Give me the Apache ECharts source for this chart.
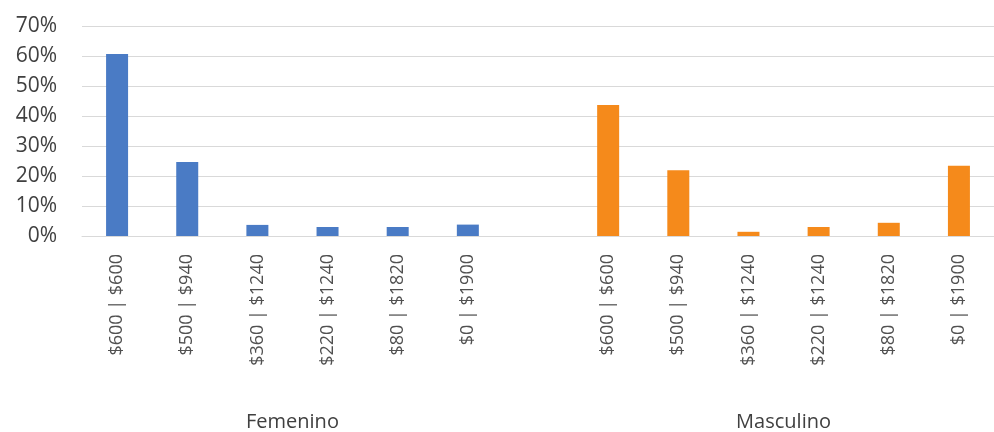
<!DOCTYPE html>
<html><head><meta charset="utf-8">
<script src="https://cdn.jsdelivr.net/npm/echarts@6/dist/echarts.min.js"></script>
<style>html,body{margin:0;padding:0;background:#fff}#c{width:994px;height:432px}</style>
</head><body><div id="c"></div>
<script>
const brackets = ['$600 | $600','$500 | $940','$360 | $1240','$220 | $1240','$80 | $1820','$0 | $1900'];
const groups = ['Femenino','Masculino'];
const femenino = [0.607, 0.247, 0.037, 0.030, 0.030, 0.038];
const masculino = [0.437, 0.219, 0.014, 0.030, 0.044, 0.234];
const yTicks = [0, 0.1, 0.2, 0.3, 0.4, 0.5, 0.6, 0.7];

const categories = [...brackets, '', ...brackets];
const gap = [null];
const none = brackets.map(() => null);
const femSeries = [...femenino, ...gap, ...none];
const masSeries = [...none, ...gap, ...masculino];
const groupCenters = [brackets.length / 2, brackets.length + 1 + brackets.length / 2];

const font = '"Open Sans", "Noto Sans", sans-serif';
const chart = echarts.init(document.getElementById('c'));
chart.setOption({
  animation: false,
  grid: { left: 82, top: 26, width: 925, height: 214, containLabel: false },
  xAxis: [{
    type: 'category', data: categories, position: 'bottom',
    axisLine: { lineStyle: { color: '#d9d9d9', width: 1 } },
    axisTick: { show: false },
    axisLabel: { rotate: 90, interval: 0, margin: 18, fontSize: 18, color: '#505050', fontFamily: font }
  }, {
    type: 'value', min: 0, max: categories.length, position: 'bottom', offset: 168,
    axisLine: { show: false }, axisTick: { show: false }, splitLine: { show: false },
    axisLabel: {
      customValues: groupCenters, fontSize: 20, color: '#404040', fontFamily: font,
      formatter: v => { const i = groupCenters.indexOf(v); return i >= 0 ? groups[i] : ''; }
    }
  }],
  yAxis: {
    type: 'value', min: 0, max: yTicks[yTicks.length - 1], interval: 0.1,
    axisLine: { show: false }, axisTick: { show: false },
    splitLine: { lineStyle: { color: '#d9d9d9', width: 1 } },
    axisLabel: { margin: 25, fontSize: 21, color: '#404040', fontFamily: font,
      formatter: v => Math.round(v * 100) + '%' }
  },
  series: [
    { name: 'Femenino', type: 'bar', stack: 's', data: femSeries, barWidth: 22, itemStyle: { color: '#4a7bc5' } },
    { name: 'Masculino', type: 'bar', stack: 's', data: masSeries, barWidth: 22, itemStyle: { color: '#f58a1b' } }
  ]
});
</script></body></html>
